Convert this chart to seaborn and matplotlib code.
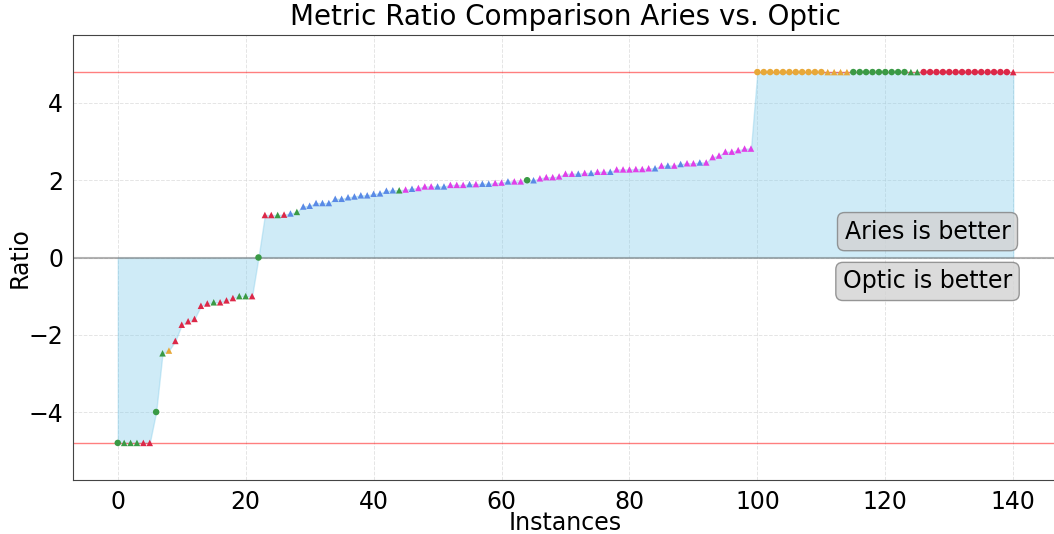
import numpy as np
import pandas as pd
import matplotlib
matplotlib.use("Agg")
import matplotlib.pyplot as plt
import seaborn as sns

# ---- data ----
ratios_neg = [-4.8, -4.8, -4.8, -4.8, -4.8, -4.8, -4.0, -2.48, -2.41, -2.16,
              -1.74, -1.65, -1.59, -1.25, -1.19, -1.16, -1.16, -1.11, -1.05, -1.0,
              -1.0, -1.0, 0.0]
ratios_mid = [1.10, 1.10, 1.10, 1.11, 1.14, 1.18, 1.32, 1.34, 1.41, 1.41,
              1.41, 1.52, 1.52, 1.56, 1.58, 1.61, 1.61, 1.65, 1.66, 1.73,
              1.74, 1.74, 1.76, 1.78, 1.80, 1.84, 1.84, 1.84, 1.84, 1.88,
              1.88, 1.88, 1.90, 1.90, 1.91, 1.91, 1.93, 1.94, 1.97, 1.97,
              1.97, 2.00, 2.00, 2.05, 2.08, 2.08, 2.10, 2.17, 2.17, 2.17,
              2.19, 2.19, 2.22, 2.22, 2.22, 2.28, 2.28, 2.28, 2.29, 2.29,
              2.31, 2.31, 2.38, 2.38, 2.38, 2.42, 2.44, 2.44, 2.46, 2.46,
              2.60, 2.64, 2.74, 2.74, 2.78, 2.82, 2.82]
ratios_top = [4.8] * 41
ratios = ratios_neg + ratios_mid + ratios_top

groups = list(
    "ggggrrgg" "orrrrrr" "grrrggrg"          # 0-22
    "rrgrbg" + "b" * 15 + "g"                # 23-44
    "mbmmmbbmmmbmbbmmb" "mmg"                # 45-64
    "bmmmmmmbmbmmbmmmmmmbmbmbmmbm" "mmmmmmm"  # 65-99
    + "o" * 15 + "g" * 11 + "r" * 15          # 100-140
)
shapes = (
    ["circle"] + ["tri"] * 5 + ["circle"] + ["tri"] * 15 + ["circle"]   # 0-22
    + ["tri"] * 41 + ["circle"] + ["tri"] * 35                          # 23-99
    + ["circle"] * 11 + ["tri"] * 4 + ["circle"] * 9 + ["tri"] * 2
    + ["circle"] * 14 + ["tri"]                                         # 100-140
)

limit = 4.8
title = "Metric Ratio Comparison Aries vs. Optic"
better_labels = ["Aries is better", "Optic is better"]

df = pd.DataFrame({"instance": np.arange(len(ratios)), "ratio": ratios,
                   "group": groups, "shape": shapes})

palette = {"g": "#3a9a45", "r": "#dc2848", "o": "#e8a838",
           "b": "#5a8ae6", "m": "#e040e8"}
markers = {"circle": "o", "tri": "^"}

sns.set_style("white")
plt.rcParams.update({"text.color": "black", "axes.labelcolor": "black",
                     "xtick.color": "black", "ytick.color": "black"})
fig = plt.figure(figsize=(10.54, 5.34), dpi=100)
ax = fig.add_axes([73 / 1054, 54 / 534, (1058 - 73) / 1054, (480 - 35) / 534])

ax.fill_between(df["instance"], df["ratio"], 0, color="skyblue", alpha=0.4,
                zorder=1)
ax.axhline(0, color="gray", alpha=0.6, lw=1.5, zorder=1)
ax.axhline(limit, color="red", alpha=0.5, lw=1, zorder=1)
ax.axhline(-limit, color="red", alpha=0.5, lw=1, zorder=1)

sns.scatterplot(data=df, x="instance", y="ratio", hue="group", style="shape",
                palette=palette, markers=markers, s=22, linewidth=0,
                legend=False, ax=ax, zorder=3)

ax.set_xlim(-7, 147)
ax.set_ylim(-limit * 1.2, limit * 1.2)
ax.set_xticks(np.arange(0, 141, 20))
ax.set_yticks([-4, -2, 0, 2, 4])
ax.set_yticklabels(["\u22124", "\u22122", "0", "2", "4"])
ax.tick_params(labelsize=17, colors="black")
ax.grid(True, linestyle="--", color="lightgray", alpha=0.6, lw=0.7)
ax.set_axisbelow(True)
ax.set_xlabel("Instances", fontsize=17, labelpad=-2, color="black")
ax.set_ylabel("Ratio", fontsize=17, labelpad=-2, color="black")
ax.set_title(title, fontsize=20, pad=7, color="black")
for s in ax.spines.values():
    s.set_color("#444444")
    s.set_linewidth(0.8)

box = dict(boxstyle="round,pad=0.3", facecolor="lightgray", edgecolor="gray",
           alpha=0.8)
ax.text(126.6, 0.67, better_labels[0], fontsize=17, ha="center", va="center",
        bbox=box, zorder=5, color="black")
ax.text(126.6, -0.62, better_labels[1], fontsize=17, ha="center", va="center",
        bbox=box, zorder=5, color="black")

fig.savefig("out.png", dpi=100)
